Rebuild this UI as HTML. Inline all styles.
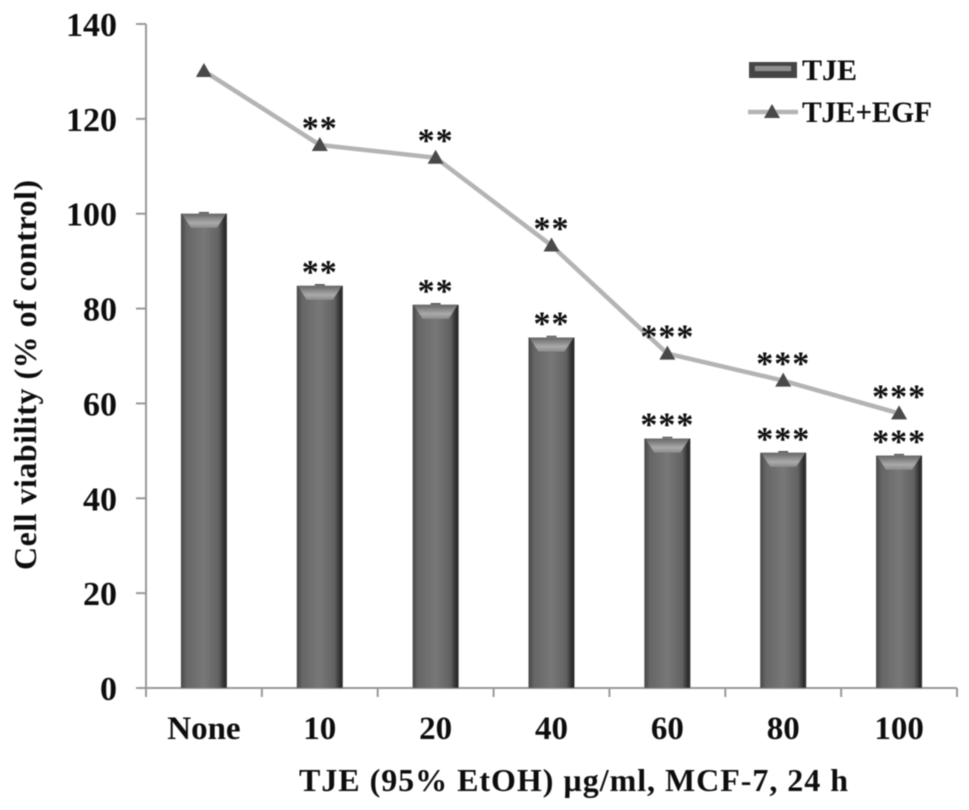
<!DOCTYPE html>
<html>
<head>
<meta charset="utf-8">
<style>
html,body{margin:0;padding:0;background:#fff;}
svg{display:block;}
text{font-family:"Liberation Serif",serif;font-weight:bold;fill:#0c0c0c;}
</style>
</head>
<body>
<svg id="chart" width="969" height="810" viewBox="0 0 969 810" xmlns="http://www.w3.org/2000/svg">
<defs>
<linearGradient id="barFill" x1="0" x2="1" y1="0" y2="0">
<stop offset="0" stop-color="#474747"/>
<stop offset="0.12" stop-color="#666"/>
<stop offset="0.5" stop-color="#787878"/>
<stop offset="0.82" stop-color="#626262"/>
<stop offset="0.95" stop-color="#2a2a2a"/>
<stop offset="1" stop-color="#363636"/>
</linearGradient>
<linearGradient id="bevelFill" x1="0" x2="0" y1="0" y2="1">
<stop offset="0" stop-color="#666"/>
<stop offset="0.65" stop-color="#aaa"/>
<stop offset="1" stop-color="#8c8c8c"/>
</linearGradient>
<filter id="soft" x="-5%" y="-5%" width="110%" height="110%"><feGaussianBlur stdDeviation="0.5"/></filter>
</defs>
<g id="plot" filter="url(#soft)"></g>
</svg>
<script>
const categories = ["None", "10", "20", "40", "60", "80", "100"];
const tjeValues = [100, 84.8, 80.8, 73.9, 52.6, 49.6, 49.0];
const tjeEgfValues = [130.1, 114.5, 111.8, 93.3, 70.5, 64.8, 57.9];
const tjeMarks = ["", "**", "**", "**", "***", "***", "***"];
const tjeEgfMarks = ["", "**", "**", "**", "***", "***", "***"];
const yTickLabels = [0, 20, 40, 60, 80, 100, 120, 140];
const seriesNames = ["TJE", "TJE+EGF"];
const axisTitleX = "TJE (95% EtOH) µg/ml, MCF-7, 24 h";
const axisTitleY = "Cell viability (% of control)";

const NS = "http://www.w3.org/2000/svg";
const plot = document.getElementById("plot");
const plotLeft = 146, plotRight = 957, plotBottom = 688, plotTop = 24;
const yMax = 140;
const barWidth = 46;
function yScale(v) { return plotBottom - (v / yMax) * (plotBottom - plotTop); }
function bandWidth() { return (plotRight - plotLeft) / categories.length; }
function xScale(i) { return plotLeft + bandWidth() * (i + 0.5); }
function make(tag, attrs, text) {
  const el = document.createElementNS(NS, tag);
  for (const k in attrs) el.setAttribute(k, attrs[k]);
  if (text !== undefined) el.textContent = text;
  plot.appendChild(el);
  return el;
}

// axes
let axisEl = make("line", {x1: plotLeft, x2: plotLeft, y1: plotTop, y2: plotBottom + 9, stroke: "#999", "stroke-width": 2});


axisEl = make("line", {x1: plotLeft - 10, x2: plotRight, y1: plotBottom, y2: plotBottom, stroke: "#999", "stroke-width": 2});



yTickLabels.forEach(function (t) {
  const y = yScale(t);
  const tick = make("line", {x1: plotLeft - 10, x2: plotLeft, y1: y, y2: y, stroke: "#999", "stroke-width": 2});
  
  
  const label = make("text", {x: 117, y: y + 12, "text-anchor": "end", "font-size": 34}, String(t));
  
  
});

categories.forEach(function (c, i) {
  const edge = plotLeft + bandWidth() * (i + 1);
  const tick = make("line", {x1: edge, x2: edge, y1: plotBottom, y2: plotBottom + 9, stroke: "#999", "stroke-width": 2});
  
  
  const label = make("text", {x: xScale(i), y: 739, "text-anchor": "middle", "font-size": 33}, c);
  
  
});

// bars
categories.forEach(function (c, i) {
  const cx = xScale(i), top = yScale(tjeValues[i]);
  const x0 = cx - barWidth / 2, x1 = cx + barWidth / 2;
  const bar = make("rect", {x: x0, y: top, width: barWidth, height: plotBottom - top, fill: "url(#barFill)"});
  
  
  const bevel = make("polygon", {points: [x0 + 1, top, x1 - 1, top, x1 - 10, top + 14, x0 + 10, top + 14].join(" "), fill: "url(#bevelFill)"});
  
  
  const err = make("line", {x1: cx - 5, x2: cx + 5, y1: top - 1, y2: top - 1, stroke: "#555", "stroke-width": 1.5});
  
  
  if (tjeMarks[i]) {
    const m = make("text", {x: cx, y: top - 3, "text-anchor": "middle", "font-size": 34, "letter-spacing": 1}, tjeMarks[i]);
    
    
  }
});

// line series
const linePts = categories.map(function (c, i) { return xScale(i) + "," + yScale(tjeEgfValues[i]); }).join(" ");
const lineEl = make("polyline", {points: linePts, fill: "none", stroke: "#b4b4b4", "stroke-width": 4.5});



function triangle(cx, cy) {
  return [cx, cy - 8, cx + 8, cy + 6, cx - 8, cy + 6].join(" ");
}
categories.forEach(function (c, i) {
  const cx = xScale(i), cy = yScale(tjeEgfValues[i]);
  const p = make("polygon", {points: triangle(cx, cy), fill: "#484848"});
  
  
  if (tjeEgfMarks[i]) {
    const m = make("text", {x: cx, y: cy - 6, "text-anchor": "middle", "font-size": 34, "letter-spacing": 1}, tjeEgfMarks[i]);
    
    
  }
});

// axis titles
const xt = make("text", {x: 573.5, y: 791, "text-anchor": "middle", "font-size": 32, textLength: 549, lengthAdjust: "spacing"}, axisTitleX);


const yt = make("text", {x: 0, y: 0, transform: "translate(36,375) rotate(-90)", "text-anchor": "middle", "font-size": 32, textLength: 390, lengthAdjust: "spacing"}, axisTitleY);



// legend
const lgBar = make("rect", {x: 749, y: 62, width: 48, height: 16, fill: "#444"});


const lgBevel = make("rect", {x: 755, y: 66, width: 36, height: 5, fill: "#8e8e8e"});


const lgT1 = make("text", {x: 802, y: 80, "font-size": 30}, seriesNames[0]);


const lgLine = make("line", {x1: 748, x2: 798, y1: 112, y2: 112, stroke: "#b4b4b4", "stroke-width": 4.5});


const lgTri = make("polygon", {points: triangle(772, 112), fill: "#484848"});


const lgT2 = make("text", {x: 802, y: 122, "font-size": 29.5, textLength: 130, lengthAdjust: "spacing"}, seriesNames[1]);


</script>
</body>
</html>
